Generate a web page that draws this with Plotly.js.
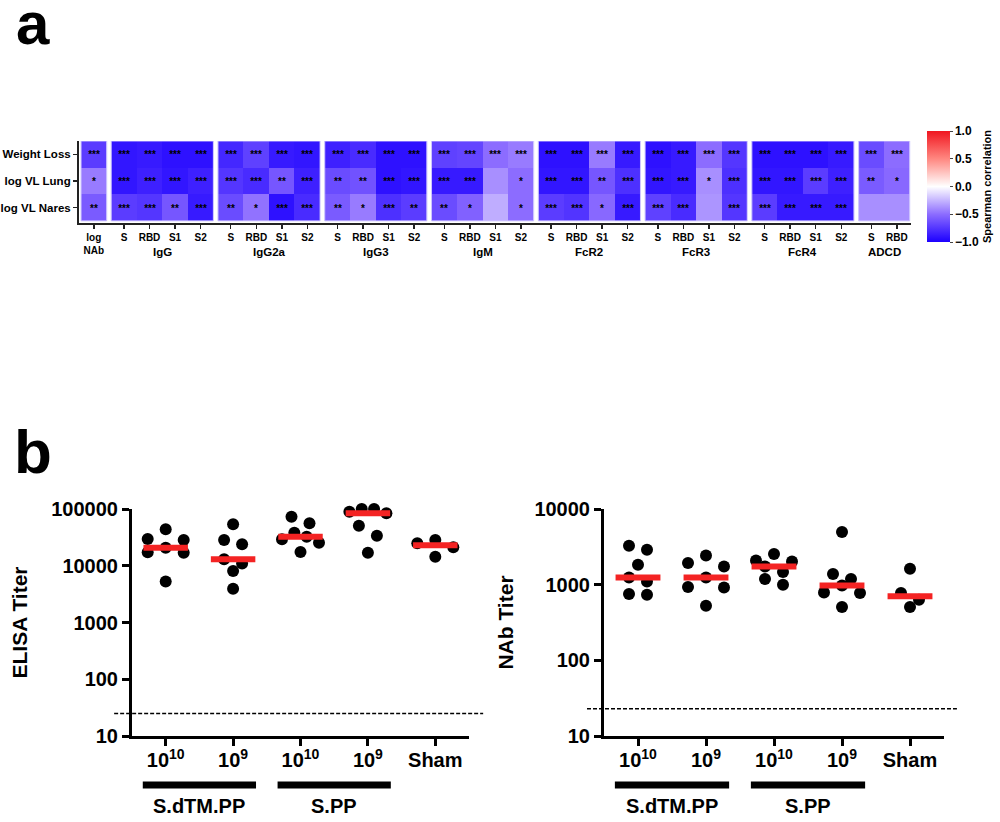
<!DOCTYPE html>
<html><head><meta charset="utf-8">
<script src="https://cdn.plot.ly/plotly-3.0.1.min.js"></script>
<style>html,body{margin:0;padding:0;background:#fff}#chart{width:1000px;height:822px}</style>
</head><body><div id="chart"></div>
<script>
// ---------------- Panel a data ----------------
const rowLabels = ['Weight Loss', 'log VL Lung', 'log VL Nares'];
const groupNames = ['', 'IgG', 'IgG2a', 'IgG3', 'IgM', 'FcR2', 'FcR3', 'FcR4', 'ADCD'];
const groupAntigens = [
  ['log<br>NAb'],
  ['S', 'RBD', 'S1', 'S2'],
  ['S', 'RBD', 'S1', 'S2'],
  ['S', 'RBD', 'S1', 'S2'],
  ['S', 'RBD', 'S1', 'S2'],
  ['S', 'RBD', 'S1', 'S2'],
  ['S', 'RBD', 'S1', 'S2'],
  ['S', 'RBD', 'S1', 'S2'],
  ['S', 'RBD']
];
const corrWeightLoss = [-0.72, -0.9,-0.88,-0.92,-0.92, -0.82,-0.7,-0.88,-0.9, -0.85,-0.8,-0.92,-0.92, -0.7,-0.68,-0.5,-0.45, -0.92,-0.92,-0.45,-0.88, -0.92,-0.88,-0.5,-0.75, -0.92,-0.92,-0.92,-0.88, -0.65,-0.5];
const corrVLLung     = [-0.45, -0.9,-0.85,-0.9,-0.85, -0.75,-0.8,-0.6,-0.85, -0.65,-0.62,-0.92,-0.9, -0.88,-0.88,-0.38,-0.5, -0.9,-0.9,-0.6,-0.78, -0.9,-0.88,-0.38,-0.78, -0.9,-0.9,-0.72,-0.85, -0.58,-0.52];
const corrVLNares    = [-0.58, -0.72,-0.75,-0.6,-0.88, -0.65,-0.48,-0.92,-0.8, -0.58,-0.45,-0.78,-0.72, -0.65,-0.55,-0.28,-0.5, -0.72,-0.76,-0.52,-0.88, -0.7,-0.8,-0.36,-0.75, -0.72,-0.88,-0.88,-0.88, -0.38,-0.38];
const sigWeightLoss = ['***', '***','***','***','***', '***','***','***','***', '***','***','***','***', '***','***','***','***', '***','***','***','***', '***','***','***','***', '***','***','***','***', '***','***'];
const sigVLLung     = ['*', '***','***','***','***', '***','***','**','***', '**','**','***','***', '***','***','','*', '***','***','**','***', '***','***','*','***', '***','***','***','***', '**','*'];
const sigVLNares    = ['**', '***','***','**','***', '**','*','***','***', '**','*','***','**', '**','*','','*', '***','***','*','***', '***','***','','***', '***','***','***','***', '',''];
const colorTicks = [-1, -0.5, 0, 0.5, 1];

// ---------------- Panel b data ----------------
const doseLabels = ['10<sup>10</sup>', '10<sup>9</sup>', '10<sup>10</sup>', '10<sup>9</sup>', 'Sham'];
const vaccineNames = ['S.dTM.PP', 'S.PP'];
const vaccineDoses = [[0, 1], [2, 3]];
const elisaTicks = [10, 100, 1000, 10000, 100000];
const nabTicks = [10, 100, 1000, 10000];
const elisaSdTM1e10 = [43900, 29600, 28400, 20800, 17300, 17000, 5300];
const elisaSdTM1e9  = [53700, 28400, 23900, 13000, 11000, 8100, 3950];
const elisaSPP1e10  = [73100, 56000, 38200, 32500, 29200, 25500, 17500];
const elisaSPP1e9   = [100000, 100000, 89600, 84000, 50800, 33900, 17000];
const elisaSham     = [28400, 24900, 21100, 14400];
const nabSdTM1e10 = [3270, 2900, 1830, 1245, 1100, 751, 735];
const nabSdTM1e9  = [2430, 1930, 1740, 1245, 930, 920, 526];
const nabSPP1e10  = [2540, 2090, 2030, 1740, 1470, 1185, 1000];
const nabSPP1e9   = [4970, 1380, 1185, 975, 789, 774, 506];
const nabSham     = [1620, 774, 630, 506];
const elisaLOD = 25;
const nabLOD = 23;

// ---------------- layout helpers ----------------
const W = 1000, H = 822;
const px = v => v / W;
const py = v => 1 - v / H;
const FONT = 'Liberation Sans, Arial, Helvetica, sans-serif';
const bold = (size, color) => ({family: FONT, size: size, weight: 'bold', color: color || '#000'});

const traces = [];
const shapes = [];
const annotations = [];

// ---- heatmap (panel a) ----
const gapUnits = 0.18;
const centers = [];
const tickText = [];
const groupSpans = [];
let pos = 0, col = 0;
groupAntigens.forEach((ags, g) => {
  const start = col;
  ags.forEach(a => { centers.push(pos); tickText.push(a); pos += 1; col += 1; });
  groupSpans.push([start, col]);
  pos += gapUnits;
});
const rowIdx = [0, 1, 2];
groupSpans.forEach(([a, b], g) => {
  traces.push({
    type: 'heatmap', xaxis: 'x', yaxis: 'y', coloraxis: 'coloraxis',
    x: centers.slice(a, b), y: rowIdx,
    z: [corrWeightLoss.slice(a, b), corrVLLung.slice(a, b), corrVLNares.slice(a, b)],
    text: [sigWeightLoss.slice(a, b), sigVLLung.slice(a, b), sigVLNares.slice(a, b)],
    texttemplate: '%{text}', textfont: {family: FONT, size: 10, color: '#000', weight: 'bold'},
    hovertemplate: '%{z}<extra></extra>', showscale: false
  });
  shapes.push({type: 'rect', xref: 'x', yref: 'y', x0: centers[a] - 0.5, x1: centers[b - 1] + 0.5,
    y0: -0.5, y1: 2.5, line: {color: '#cdc6ff', width: 1}});
  if (groupNames[g]) {
    annotations.push({xref: 'x', yref: 'paper', x: (centers[a] + centers[b - 1]) / 2, y: py(252),
      text: groupNames[g], showarrow: false, font: bold(11.5), yanchor: 'middle'});
  }
});
const lastC = centers[centers.length - 1];

// ---- panel b helpers ----
function median(arr) {
  const s = arr.slice().sort((p, q) => p - q);
  const m = Math.floor(s.length / 2);
  return s.length % 2 ? s[m] : (s[m - 1] + s[m]) / 2;
}
function swarm(values, center, pxPerUnit, pxPerDecade) {
  const sorted = values.slice().sort((p, q) => q - p);
  const rows = [];
  sorted.forEach(v => {
    const last = rows[rows.length - 1];
    if (last && (Math.log10(last[0]) - Math.log10(v)) * pxPerDecade < 11) last.push(v);
    else rows.push([v]);
  });
  const xs = [], ys = [];
  rows.forEach(row => {
    const n = row.length;
    const step = n > 1 ? Math.min(18, 37 / (n - 1)) : 0;
    const slots = [];
    if (n % 2) { slots.push(0); for (let k = 1; slots.length < n; k++) { slots.push(-k); if (slots.length < n) slots.push(k); } }
    else { for (let k = 0.5; slots.length < n; k++) { slots.push(-k); slots.push(k); } }
    row.forEach((v, j) => { xs.push(center + slots[j] * step / pxPerUnit); ys.push(v); });
  });
  return {xs, ys};
}
const yDom = [py(736), py(509)];
function addDotPanel(groups, xa, ya, xDom, decades, lod, lodX) {
  const pxPerUnit = (xDom[1] - xDom[0]) * W / 5;
  const pxPerDecade = (yDom[1] - yDom[0]) * H / decades;
  const X = [], Y = [], MX = [], MY = [];
  groups.forEach((vals, i) => {
    const s = swarm(vals, i, pxPerUnit, pxPerDecade);
    X.push(...s.xs); Y.push(...s.ys);
    const m = median(vals);
    MX.push(i - 0.33, i + 0.33, null); MY.push(m, m, null);
  });
  traces.push({type: 'scatter', mode: 'markers', xaxis: xa, yaxis: ya, x: X, y: Y,
    marker: {color: '#000', size: 12}, cliponaxis: false, showlegend: false, hoverinfo: 'y'});
  traces.push({type: 'scatter', mode: 'lines', xaxis: xa, yaxis: ya, x: MX, y: MY,
    line: {color: '#f42323', width: 6}, cliponaxis: false, showlegend: false, hoverinfo: 'skip'});
  shapes.push({type: 'line', xref: xa + ' domain', yref: ya, x0: lodX[0], x1: lodX[1], y0: lod, y1: lod,
    line: {color: '#000', width: 1.5, dash: '4px,2px'}});
  vaccineDoses.forEach((d, k) => {
    shapes.push({type: 'line', xref: xa, yref: 'paper', x0: d[0] - 0.34, x1: d[d.length - 1] + 0.34,
      y0: py(785), y1: py(785), line: {color: '#000', width: 7}});
    annotations.push({xref: xa, yref: 'paper', x: (d[0] + d[d.length - 1]) / 2, y: py(806),
      text: vaccineNames[k], showarrow: false, font: bold(20), yanchor: 'middle'});
  });
}
const xDomL = [px(132), px(469)];
const xDomR = [px(604), px(944)];
addDotPanel([elisaSdTM1e10, elisaSdTM1e9, elisaSPP1e10, elisaSPP1e9, elisaSham], 'x2', 'y2', xDomL, 4, elisaLOD, [-0.053, 1.042]);
addDotPanel([nabSdTM1e10, nabSdTM1e9, nabSPP1e10, nabSPP1e9, nabSham], 'x3', 'y3', xDomR, 3, nabLOD, [-0.05, 1.038]);

// panel letters
annotations.push({xref: 'paper', yref: 'paper', x: px(14), y: py(24), xanchor: 'left', yanchor: 'middle',
  text: 'a', showarrow: false, font: bold(60)});
annotations.push({xref: 'paper', yref: 'paper', x: px(12), y: py(451), xanchor: 'left', yanchor: 'middle',
  text: 'b', showarrow: false, font: bold(62)});

const dotAxisX = (dom, anchor) => ({domain: dom, anchor: anchor, range: [-0.5, 4.5], tickvals: [0, 1, 2, 3, 4],
  ticktext: doseLabels, showline: true, linewidth: 3, linecolor: '#000', ticks: 'outside', ticklen: 7,
  tickwidth: 3, tickcolor: '#000', showgrid: false, zeroline: false, tickfont: bold(20), tickangle: 0,
  ticklabelstandoff: -3, fixedrange: true});
const dotAxisY = (anchor, range, ticks, title, standoff) => ({domain: yDom, anchor: anchor, type: 'log', range: range,
  tickvals: ticks, ticktext: ticks.map(String), showline: true, linewidth: 3, linecolor: '#000', ticks: 'outside',
  ticklen: 7, tickwidth: 3, tickcolor: '#000', showgrid: false, zeroline: false, tickfont: bold(20),
  title: {text: title, font: bold(21), standoff: standoff}, fixedrange: true});

const layout = {
  width: W, height: H, margin: {l: 0, r: 0, t: 0, b: 0}, paper_bgcolor: '#fff', plot_bgcolor: '#fff',
  font: {family: FONT, color: '#000', weight: 'bold'}, showlegend: false,
  coloraxis: {
    cmin: -1, cmax: 1,
    colorscale: [[0, 'rgb(28,0,255)'], [0.25, 'rgb(140,108,255)'], [0.5, 'rgb(255,255,255)'],
                 [0.75, 'rgb(255,135,128)'], [1, 'rgb(240,22,32)']],
    colorbar: {x: px(927), xanchor: 'left', y: py(186.5), yanchor: 'middle', len: 111 / H, lenmode: 'fraction',
      thickness: 23, thicknessmode: 'pixels', xpad: 0, ypad: 0, outlinewidth: 0, ticks: 'outside', ticklen: 3,
      tickvals: colorTicks, tickformat: '.1f', tickfont: bold(12),
      title: {text: 'Spearman correlation', side: 'right', font: bold(11)}}
  },
  xaxis: {domain: [px(79), px(911)], anchor: 'y', range: [-0.58, lastC + 0.55], tickvals: centers, ticktext: tickText,
    showline: true, linewidth: 2, linecolor: '#222', ticks: 'outside', ticklen: 4, tickwidth: 1.5, tickcolor: '#222',
    showgrid: false, zeroline: false, tickfont: bold(10), tickangle: 0, fixedrange: true},
  yaxis: {domain: [py(223), py(141)], anchor: 'x', range: [2.58, -0.5], tickvals: rowIdx, ticktext: rowLabels,
    showline: true, linewidth: 2, linecolor: '#222', ticks: 'outside', ticklen: 4, tickwidth: 1.5, tickcolor: '#222',
    showgrid: false, zeroline: false, tickfont: bold(11.5), fixedrange: true},
  xaxis2: dotAxisX(xDomL, 'y2'),
  yaxis2: dotAxisY('x2', [1, 5], elisaTicks, 'ELISA Titer', 18),
  xaxis3: dotAxisX(xDomR, 'y3'),
  yaxis3: dotAxisY('x3', [1, 4], nabTicks, 'NAb Titer', 16),
  shapes: shapes, annotations: annotations
};
Plotly.newPlot('chart', traces, layout, {displayModeBar: false, staticPlot: true});
</script>
</body></html>
